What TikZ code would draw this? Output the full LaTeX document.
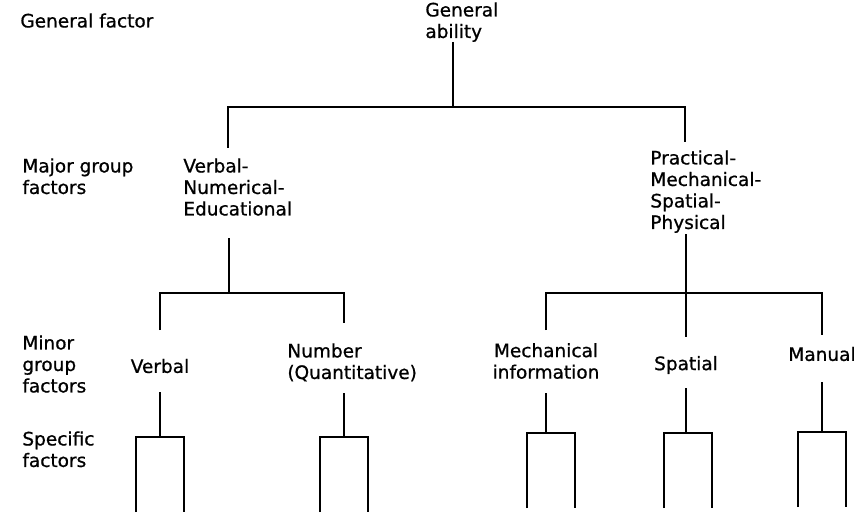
\documentclass[tikz,border=0pt]{standalone}
\usepackage{fontspec}
\setmainfont{DejaVu Sans}[FakeBold=0.8]
\usepackage{tikz}
\usetikzlibrary{arrows}

\begin{document}
\begin{tikzpicture}[x=1pt, y=-1pt, thick]
      \tikzstyle{tree} = [draw=black, line width=2.6pt, line join=miter]
      \tikzstyle{heading} = [inner sep=0pt, anchor=north west, align=left,
         font=\fontsize{18.5}{21.5}\selectfont]
      \tikzstyle{factor} = [inner sep=0pt, align=left, font=\fontsize{18.5}{21.5}\selectfont]
      \useasboundingbox (0,0) rectangle (858,513);

      %row headings
      \node[heading] (general') at (20,13)  {General factor};
      \node[heading] (major')   at (22,158) {Major group\\factors};
      \node[heading] (minor')   at (22,335) {Minor\\group\\factors};
      \node[heading] (specific') at (22,431) {Specific\\factors};

      %factors
      \node[factor, anchor=north west] (ability') at (425,2)   {General\\ability};
      \node[factor, anchor=north west] (vne')     at (183,158) {Verbal-\\Numerical-\\Educational};
      \node[factor, anchor=north west] (pmsp')    at (650,150) {Practical-\\Mechanical-\\Spatial-\\Physical};
      \node[factor]                    (verbal')  at (160,366) {Verbal};
      \node[factor, anchor=north west] (number')  at (287,343) {Number\\(Quantitative)};
      \node[factor, align=center]      (mech')    at (546,361) {Mechanical\\information};
      \node[factor]                    (spatial') at (686,365) {Spatial};
      \node[factor]                    (manual')  at (822,354) {Manual};

      %stem ends
      \coordinate (abilityS) at (453,42);
      \coordinate (abilityJ) at (453,107);
      \coordinate (vneT)     at (228,148);
      \coordinate (pmspT)    at (685,142);
      \coordinate (vneS)     at (229,238);
      \coordinate (vneJ)     at (229,293);
      \coordinate (pmspS)    at (686,234);
      \coordinate (pmspJ)    at (686,293);
      \coordinate (verbalT)  at (160,330);
      \coordinate (numberT)  at (344,323);
      \coordinate (mechT)    at (546,330);
      \coordinate (spatialT) at (686,337);
      \coordinate (manualT)  at (822,335);
      \coordinate (verbalS)  at (160,392);
      \coordinate (numberS)  at (344,393);
      \coordinate (mechS)    at (546,393);
      \coordinate (spatialS) at (686,388);
      \coordinate (manualS)  at (822,382);
      \coordinate (verbalJ)  at (160,437);
      \coordinate (numberJ)  at (344,437);
      \coordinate (mechJ)    at (551,433);
      \coordinate (spatialJ) at (688,433);
      \coordinate (manualJ)  at (822,432);

      %lines
      \path [tree] (abilityS) -- (abilityJ);
      \path [tree] (vneT) |- (abilityJ) -| (pmspT);
      \path [tree] (vneS) -- (vneJ);
      \path [tree] (verbalT) |- (vneJ) -| (numberT);
      \path [tree] (pmspS) -- (spatialT);
      \path [tree] (mechT) |- (pmspJ) -| (manualT);
      \foreach \f in {verbal, number, mech, spatial, manual}
         \path [tree] (\f S) |- (\f J);
      \foreach \f in {verbal, number, mech, spatial, manual}
         \path [tree] (\f J) ++(-24,75) |- (\f J) -| ++(24,75);
    \end{tikzpicture}
\end{document}
